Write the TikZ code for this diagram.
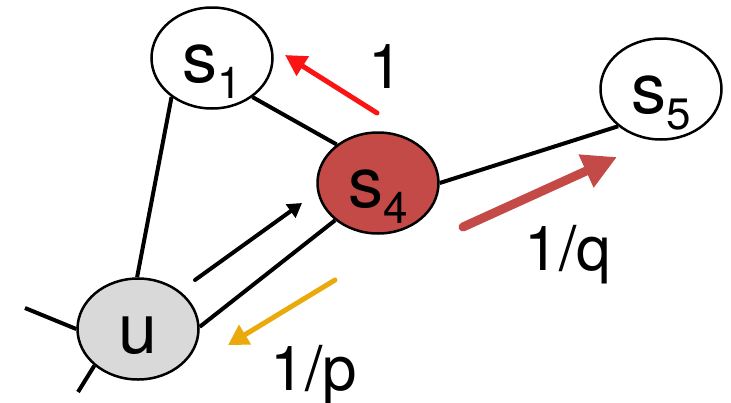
\documentclass[tikz,border=0pt]{standalone}
\usepackage{fontspec}
\setmainfont{TeX Gyre Heros}
\usetikzlibrary{positioning, arrows.meta, shapes.geometric}

\definecolor{walkred}{RGB}{196,74,72}
\definecolor{backgray}{RGB}{217,217,217}
\definecolor{returnamber}{RGB}{234,170,12}
\definecolor{stayred}{RGB}{250,20,20}

\newcommand{\subidx}[1]{\raisebox{-16pt}{\fontsize{44}{44}\selectfont #1}}

\tikzset{
  state/.style = {draw, ellipse, line width = 2.5pt, inner sep = 0pt,
    minimum width = 121pt, minimum height = 101pt,
    font = \fontsize{70}{70}\selectfont, text height = 48pt, text depth = 0pt},
  current/.style = {state, fill = walkred},
  previous/.style = {state, fill = backgray},
  link/.style = {line width = 4pt},
  move/.style n args = {4}{-{Triangle[length = #3, width = #4]},
    draw = #1, line width = #2, line cap = round},
  weight/.style = {font = \fontsize{62}{62}\selectfont, anchor = base}
}

\begin{document}
\begin{tikzpicture}[x = 1pt, y = -1pt]
\useasboundingbox (0,0) rectangle (731,402);

\node [previous] (u) at (138,329) {u};
\node [state] (s1) at (212,58) {s\subidx{1}};
\node [current] (s4) at (378,183) {s\subidx{4}};
\node [state] (s5) at (661,89) {s\subidx{5}};

\coordinate (outA) at (25,308);
\coordinate (outB) at (78,392);

\draw [link] (u.91) -- (s1.224);
\draw [link] (s1.316) -- (s4.137);
\draw [link] (u.2) -- (s4.221);
\draw [link] (s4.0) -- (s5.221);
\draw [link] (outA) -- (u.180);
\draw [link] (outB) -- (u.220);

% transition arrows
\coordinate (stepA) at (195,280);
\coordinate (stepB) at (302,203);
\coordinate (backA) at (335,280);
\coordinate (backB) at (228,345);
\coordinate (sideA) at (377,113);
\coordinate (sideB) at (285,55);
\coordinate (outwardA) at (463,227);
\coordinate (outwardB) at (617,157);

\draw [move = {black}{4pt}{14pt}{16pt}] (stepA) -- (stepB);
\draw [move = {returnamber}{5pt}{20pt}{22pt}] (backA) -- (backB);
\draw [move = {stayred}{5pt}{21pt}{22pt}] (sideA) -- (sideB);
\draw [move = {walkred}{9pt}{34pt}{34pt}] (outwardA) -- (outwardB);

\node [weight] (w1) at (386,88) {1};
\node [weight] (wq) at (568,270) {1/q};
\node [weight] (wp) at (314,390) {1/p};

\end{tikzpicture}
\end{document}
